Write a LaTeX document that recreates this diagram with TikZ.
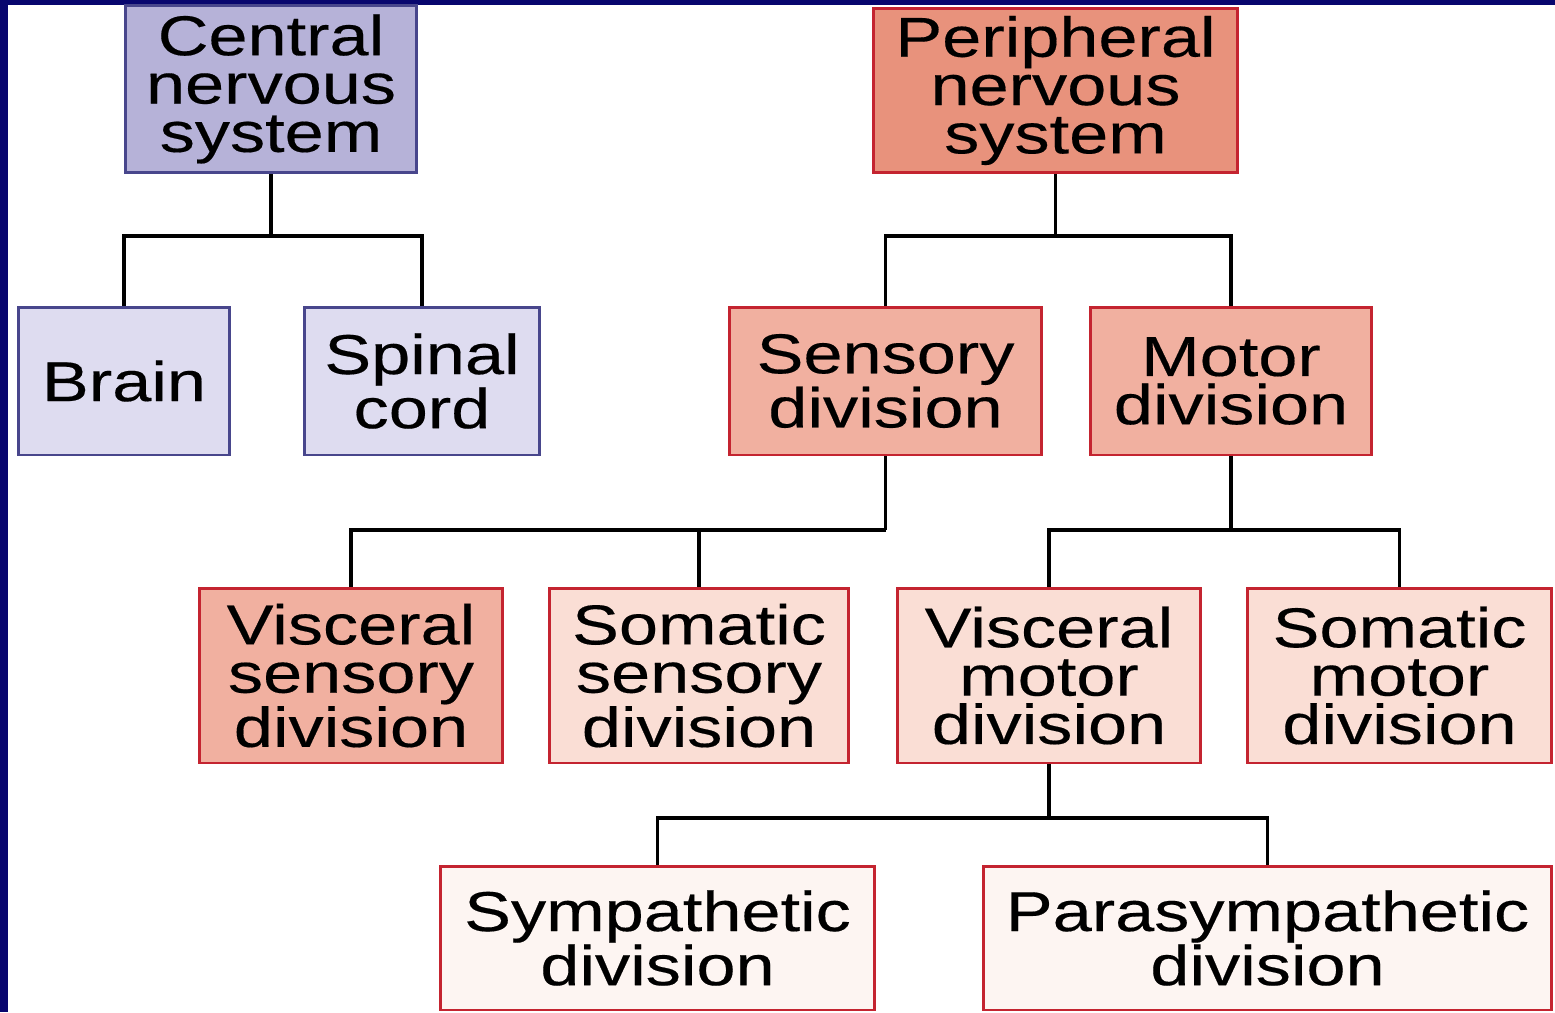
\documentclass[tikz,border=0pt]{standalone}
\usepackage{fontspec}
\setmainfont{Liberation Sans}[FakeStretch=1.25,FakeBold=0.3]
\definecolor{frame}{RGB}{8,6,110}
\definecolor{cnsdark}{RGB}{72,70,140}
\definecolor{cnsfill}{RGB}{182,178,216}
\definecolor{cnslight}{RGB}{222,220,240}
\definecolor{pnsdark}{RGB}{196,36,48}
\definecolor{pnsfill}{RGB}{232,146,124}
\definecolor{pnsmid}{RGB}{241,176,160}
\definecolor{pnslight}{RGB}{250,222,213}
\definecolor{pnspale}{RGB}{253,245,242}
\begin{document}
\begin{tikzpicture}[x=0.02cm,y=-0.02cm,
  box/.style={draw,line width=1.7pt,inner sep=0pt,align=center,
    font=\fontsize{32}{27.5}\selectfont},
  cnsbox/.style={box,draw=cnsdark,fill=#1},
  pnsbox/.style={box,draw=pnsdark,fill=#1},
  link/.style={line width=2.2pt,black}]
\useasboundingbox (0,0) rectangle (1555,1012);
\fill[frame] (0,0) rectangle (1555,1012);
\fill[white] (8,5) rectangle (1555,1012);

\node[cnsbox=cnsfill,minimum width=5.84cm,minimum height=3.36cm] (cns) at (271,89) {Central\\nervous\\system};
\node[pnsbox=pnsfill,minimum width=7.3cm,minimum height=3.3cm] (pns) at (1055.5,90.5) {Peripheral\\nervous\\system};

\node[cnsbox=cnslight,minimum width=4.24cm,minimum height=2.96cm] (brain) at (124,381) {Brain};
\node[cnsbox=cnslight,minimum width=4.72cm,minimum height=2.96cm] (spinal) at (422,381) {Spinal\\cord};
\node[pnsbox=pnsmid,minimum width=6.26cm,minimum height=2.96cm] (sensory) at (885.5,381) {Sensory\\division};
\node[pnsbox=pnsmid,minimum width=5.64cm,minimum height=2.96cm] (motor) at (1231,381) {Motor\\division};

\node[pnsbox=pnsmid,minimum width=6.08cm,minimum height=3.5cm] (vissens) at (351,675.5) {Visceral\\sensory\\division};
\node[pnsbox=pnslight,minimum width=6cm,minimum height=3.5cm] (somsens) at (699,675.5) {Somatic\\sensory\\division};
\node[pnsbox=pnslight,minimum width=6.08cm,minimum height=3.5cm] (vismot) at (1049,675.5) {Visceral\\motor\\division};
\node[pnsbox=pnslight,minimum width=6.1cm,minimum height=3.5cm] (sommot) at (1399.5,675.5) {Somatic\\motor\\division};

\node[pnsbox=pnspale,minimum width=8.7cm,minimum height=2.88cm] (symp) at (657.5,938) {Sympathetic\\division};
\node[pnsbox=pnspale,minimum width=11.38cm,minimum height=2.88cm] (para) at (1267.5,938) {Parasympathetic\\division};

\coordinate (cnsj) at (cns.south |- 0,236);
\coordinate (pnsj) at (pns.south |- 0,236);
\coordinate (sensj) at (sensory.south |- 0,530);
\coordinate (motj) at (motor.south |- 0,530);
\coordinate (visj) at (vismot.south |- 0,818);

\draw[link] (cns.south) -- (cnsj);
\draw[link] (brain.north) |- (cnsj) -| (spinal.north);
\draw[link] (pns.south) -- (pnsj);
\draw[link] (sensory.north) |- (pnsj) -| (motor.north);
\draw[link] (sensory.south) -- (sensj);
\draw[link] (vissens.north) |- (sensj);
\draw[link] (somsens.north) -- (somsens.north |- sensj);
\draw[link] (motor.south) -- (motj);
\draw[link] (vismot.north) |- (motj) -| (sommot.north);
\draw[link] (vismot.south) -- (visj);
\draw[link] (symp.north) |- (visj) -| (para.north);
\end{tikzpicture}
\end{document}
